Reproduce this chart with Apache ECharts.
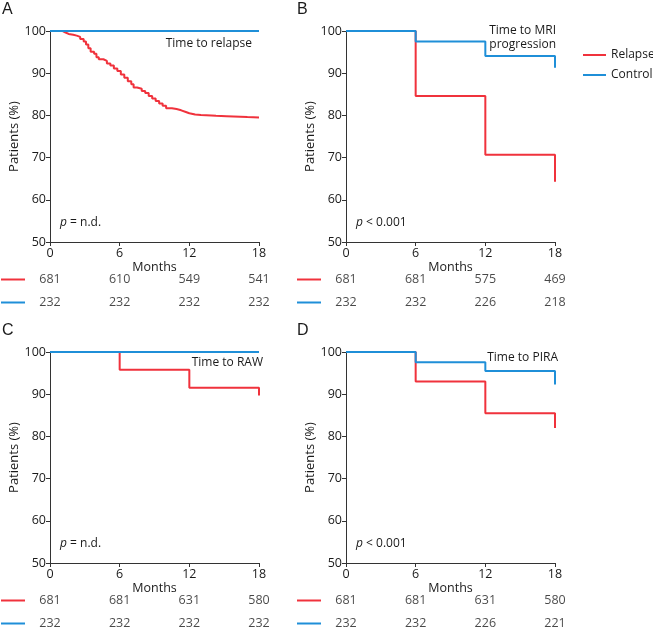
<!DOCTYPE html>
<html>
<head>
<meta charset="utf-8">
<title>Kaplan-Meier</title>
<script src="https://cdn.jsdelivr.net/npm/echarts@6/dist/echarts.min.js"></script>
<style>
html, body { margin: 0; padding: 0; background: #fff; }
#main { width: 653px; height: 627px; }
</style>
</head>
<body>
<div id="main"></div>
<script>
// categories / ticks
var months = [0, 6, 12, 18];
var groups = ['Relapse', 'Control'];

// survival curves [month, %]
var relapseA = [[0,100],[1.1,99.7],[1.3,99.3],[1.6,99.1],[2.0,98.9],[2.3,98.6],[2.6,98.1],[2.9,97.5],
  [3.1,96.8],[3.3,95.9],[3.5,95.1],[3.8,94.6],[4.0,93.8],[4.2,93.3],[4.6,92.9],[4.9,92.3],[5.2,91.8],
  [5.5,91.1],[5.8,90.5],[6.1,89.7],[6.4,88.9],[6.7,88.1],[7.0,87.4],[7.2,86.6],[7.5,86.3],[7.9,85.8],
  [8.2,85.3],[8.5,84.6],[8.8,84.0],[9.1,83.4],[9.4,82.8],[9.7,82.3],[10.0,81.7],[10.5,81.5],[10.9,81.2],
  [11.3,80.8],[11.7,80.5],[12.0,80.2],[12.5,80.1],[13.0,80.0],[13.9,79.9],[14.3,79.8],[15.2,79.6],
  [17.0,79.5],[18,79.5]];
var controlA = [[0,100],[18,100]];
var relapseB = [[0,100],[6,84.6],[12,70.7],[18,64.3]];
var controlB = [[0,100],[6,97.5],[12,94.1],[18,91.3]];
var relapseC = [[0,100],[6,95.8],[12,91.5],[18,89.7]];
var controlC = [[0,100],[18,100]];
var relapseD = [[0,100],[6,93.0],[12,85.5],[18,82.0]];
var controlD = [[0,100],[6,97.6],[12,95.5],[18,92.3]];

// numbers at risk
var riskRelapseA = [681, 610, 549, 541];
var riskControlA = [232, 232, 232, 232];
var riskRelapseB = [681, 681, 575, 469];
var riskControlB = [232, 232, 226, 218];
var riskRelapseC = [681, 681, 631, 580];
var riskControlC = [232, 232, 232, 232];
var riskRelapseD = [681, 681, 631, 580];
var riskControlD = [232, 232, 226, 221];

var RED = '#f0323c';
var BLUE = '#1f8fd8';
var INK = '#1a1a1a';
var FONT = 'Open Sans';

var panels = [
  {letter: 'A', left: 50, top: 31, relapse: relapseA, control: controlA, rr: riskRelapseA, rc: riskControlA,
   label: ['Time to relapse'], labelX: 252, labelY: 44, p: ' = n.d.'},
  {letter: 'B', left: 346, top: 31, relapse: relapseB, control: controlB, rr: riskRelapseB, rc: riskControlB,
   label: ['Time to MRI', 'progression'], labelX: 556, labelY: 31, p: ' < 0.001'},
  {letter: 'C', left: 50, top: 352, relapse: relapseC, control: controlC, rr: riskRelapseC, rc: riskControlC,
   label: ['Time to RAW'], labelX: 263, labelY: 363, p: ' = n.d.'},
  {letter: 'D', left: 346, top: 352, relapse: relapseD, control: controlD, rr: riskRelapseD, rc: riskControlD,
   label: ['Time to PIRA'], labelX: 558, labelY: 358, p: ' < 0.001'}
];

var grids = [], xAxes = [], yAxes = [], series = [], graphics = [];
var W = 209, H = 211;

panels.forEach(function (pn, i) {
  var g = i * 2;
  grids.push({left: pn.left, top: pn.top, width: W, height: H, outerBoundsMode: 'none', containLabel: false});
  grids.push({left: pn.left, top: pn.top + H + 26, width: W, height: 46, outerBoundsMode: 'none', containLabel: false});

  xAxes.push({
    gridIndex: g, type: 'value', min: 0, max: 18, interval: 6,
    name: 'Months', nameLocation: 'middle', nameGap: 19,
    nameTextStyle: {fontFamily: FONT, fontSize: 12.5, color: INK},
    axisLine: {lineStyle: {color: '#333', width: 1}},
    axisTick: {length: 4, lineStyle: {color: '#333'}},
    axisLabel: {fontFamily: FONT, fontSize: 12.5, color: INK, margin: 5},
    splitLine: {show: false}
  });
  xAxes.push({gridIndex: g + 1, type: 'value', min: 0, max: 18, show: false});

  yAxes.push({
    gridIndex: g, type: 'value', min: 50, max: 100, interval: 10,
    name: 'Patients (%)', nameLocation: 'middle', nameGap: 16,
    nameTextStyle: {fontFamily: FONT, fontSize: 13, color: INK},
    axisLine: {show: true, lineStyle: {color: '#333', width: 1}},
    axisTick: {show: true, length: 4, lineStyle: {color: '#333'}},
    axisLabel: {fontFamily: FONT, fontSize: 12.5, color: INK, margin: 4},
    splitLine: {show: false}
  });
  yAxes.push({gridIndex: g + 1, type: 'category', data: groups, inverse: true, show: false});

  series.push({
    name: 'Relapse', type: 'line', step: 'end', xAxisIndex: g, yAxisIndex: g,
    data: pn.relapse, showSymbol: false, lineStyle: {color: RED, width: 2}, itemStyle: {color: RED},
    z: 2
  });
  series.push({
    name: 'Control', type: 'line', step: 'end', xAxisIndex: g, yAxisIndex: g,
    data: pn.control, showSymbol: false, lineStyle: {color: BLUE, width: 2}, itemStyle: {color: BLUE},
    z: 3
  });

  var riskData = [];
  months.forEach(function (m, k) {
    riskData.push([m, groups[0], pn.rr[k]]);
    riskData.push([m, groups[1], pn.rc[k]]);
  });
  series.push({
    type: 'scatter', xAxisIndex: g + 1, yAxisIndex: g + 1, symbolSize: 0, silent: true,
    data: riskData,
    label: {show: true, position: 'inside', fontFamily: FONT, fontSize: 12.5, color: INK,
      formatter: function (p) { return p.value[2]; }}
  });

  // panel letter
  var lx = pn.left === 50 ? 2 : 297;
  graphics.push({type: 'text', x: lx, y: pn.top - 21,
    style: {text: pn.letter, font: '16px "Liberation Sans"', fill: INK, verticalAlign: 'middle'}});
  // curve label
  pn.label.forEach(function (t, k) {
    graphics.push({type: 'text', x: pn.labelX, y: pn.labelY + k * 14,
      style: {text: t, font: '12px "Open Sans"', fill: INK, align: 'right', verticalAlign: 'middle'}});
  });
  // p value
  graphics.push({type: 'text', x: pn.left + 10, y: pn.top + 192,
    style: {text: '{i|p}' + pn.p, font: '12px "Open Sans"', fill: INK, verticalAlign: 'middle',
      rich: {i: {fontStyle: 'italic', fontFamily: FONT, fontSize: 12, fill: INK}}}});
  // risk row keys
  var kx = pn.left === 50 ? 1 : 297;
  var ry = pn.top + H + 26 + 11.5;
  graphics.push({type: 'line', shape: {x1: kx, y1: ry, x2: kx + 24, y2: ry}, style: {stroke: RED, lineWidth: 2}});
  graphics.push({type: 'line', shape: {x1: kx, y1: ry + 23, x2: kx + 24, y2: ry + 23}, style: {stroke: BLUE, lineWidth: 2}});
});

var chart = echarts.init(document.getElementById('main'));
chart.setOption({
  animation: false,
  backgroundColor: '#fff',
  legend: {
    data: groups, orient: 'vertical', left: 583, top: 48, padding: 0,
    icon: 'rect', itemWidth: 23, itemHeight: 2, itemGap: 6,
    textStyle: {fontFamily: FONT, fontSize: 12, color: INK, lineHeight: 14, overflow: 'none', width: 60}
  },
  grid: grids,
  xAxis: xAxes,
  yAxis: yAxes,
  series: series,
  graphic: graphics
});
</script>
</body>
</html>
